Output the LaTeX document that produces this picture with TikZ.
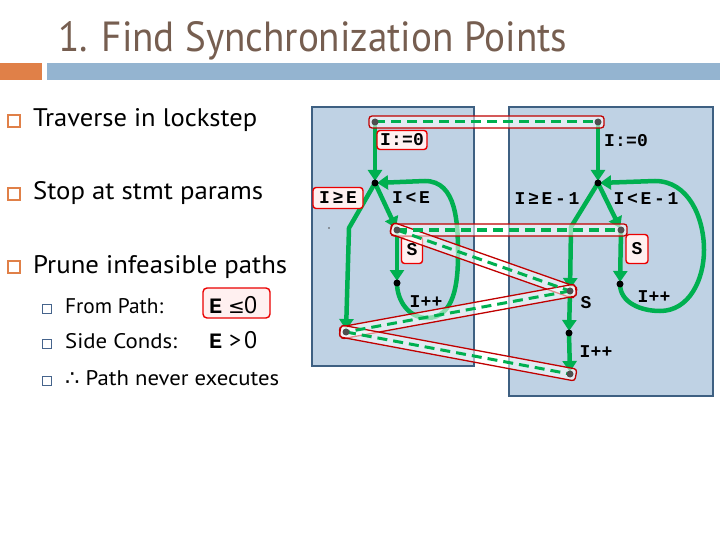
\documentclass[tikz,border=0pt]{standalone}
\usepackage{fontspec}
\setmainfont{PT Sans}
\newfontfamily\djfont{DejaVu Sans}
\newfontfamily\labA{Liberation Mono}[LetterSpace=1]
\newfontfamily\labB{Liberation Mono}[LetterSpace=15]
\newfontfamily\monoE{Liberation Mono}
\usetikzlibrary{arrows.meta,calc}
\definecolor{titlebrown}{RGB}{118,94,80}
\definecolor{barorange}{RGB}{224,128,72}
\definecolor{barblue}{RGB}{148,180,208}
\definecolor{panelfill}{RGB}{191,210,228}
\definecolor{paneledge}{RGB}{62,96,130}
\definecolor{sgreen}{RGB}{0,176,80}
\definecolor{barred}{RGB}{192,0,0}
\definecolor{lred}{RGB}{235,0,0}
\definecolor{lpink}{RGB}{255,240,240}
\definecolor{dotgray}{RGB}{80,80,80}
\definecolor{subblue}{RGB}{70,100,140}
\newcommand\syncbar[3]{%
  \path let \p1=($(#2)-(#1)$), \n1={atan2(\y1,\x1)}, \n2={veclen(\x1,\y1)} in
    node[barbox, minimum width=\n2+12pt, rotate=\n1] (#3) at ($(#1)!0.5!(#2)$) {};}
\begin{document}
\begin{tikzpicture}[x=1pt,y=-1pt,
  garrow/.style={draw=sgreen, line width=4.5pt, -{Triangle[length=11pt,width=14pt]}, shorten >=2pt},
  barbox/.style={draw=barred, line width=1.3pt, fill=white, fill opacity=0.55, rounded corners=3pt, minimum height=12pt, inner sep=0pt, outer sep=0pt},
  syncdash/.style={draw=sgreen, line width=3pt, dash pattern=on 10pt off 6pt},
  lbox/.style={draw=lred, line width=1.4pt, fill=lpink, rounded corners=3pt, inner sep=0pt},
  ltA/.style={inner sep=0pt, font=\labA\bfseries\fontsize{18}{18}\selectfont},
  ltB/.style={inner sep=0pt, font=\labB\bfseries\fontsize{18}{18}\selectfont},
  bdot/.style={circle, fill=black, inner sep=0pt, minimum size=7pt},
  gdot/.style={circle, fill=dotgray, inner sep=0pt, minimum size=7pt},
  panel/.style={draw=paneledge, line width=1.6pt, fill=panelfill},
  bullet/.style={draw=barorange, line width=1.2pt, fill=white},
  subbullet/.style={draw=subblue, line width=1pt, fill=white},
  txt/.style={anchor=base west, inner sep=0pt, font=\fontsize{24}{24}\selectfont},
]
\useasboundingbox (0,0) rectangle (720,540);
\fill[white] (0,0) rectangle (720,540);
% title and bars
\node[anchor=base west, inner sep=0pt, text=titlebrown, font=\fontsize{42}{42}\selectfont] (title) at (58,52)
  {\resizebox{509pt}{30pt}{1. Find Synchronization Points}};
\fill[barorange] (0,63) rectangle (42,80);
\fill[barblue] (47,63) rectangle (720,80);
% bullets
\draw[bullet] (8,115) rectangle (20,127);
\draw[bullet] (8,188) rectangle (20,200);
\draw[bullet] (8,261) rectangle (20,273);
\draw[subbullet] (42,304) rectangle (51,313);
\draw[subbullet] (42,339) rectangle (51,348);
\draw[subbullet] (42,376) rectangle (51,385);
\node[txt] (t1) at (33,127) {\resizebox{224pt}{18pt}{Traverse in lockstep}};
\node[txt] (t2) at (33,200) {\resizebox{230pt}{18pt}{Stop at stmt params}};
\node[txt] (t3) at (33,273) {\resizebox{254pt}{18pt}{Prune infeasible paths}};
\node[txt] (s1) at (65,313) {\resizebox{98pt}{15pt}{From Path:}};
\node[txt] (s2) at (65,348) {\resizebox{112pt}{15pt}{Side Conds:}};
\node[txt] (s3) at (65,385) {\resizebox{214pt}{15pt}{{\djfont ∴} Path never executes}};
\draw[lred, line width=1.4pt, fill=lpink, rounded corners=4pt] (203,288) rectangle (270,318);
\node[anchor=base west, inner sep=0pt, font=\monoE\bfseries\fontsize{22}{22}\selectfont] (e1) at (209,313) {E};
\node[anchor=base west, inner sep=0pt, font=\djfont\fontsize{20}{20}\selectfont] (le) at (228,313) {≤};
\node[anchor=base west, inner sep=0pt, font=\fontsize{24}{24}\selectfont] (z1) at (244,313) {0};
\node[anchor=base west, inner sep=0pt, font=\monoE\bfseries\fontsize{22}{22}\selectfont] (e2) at (209,348) {E};
\node[anchor=base west, inner sep=0pt, font=\fontsize{24}{24}\selectfont] (gt) at (229,348) {>};
\node[anchor=base west, inner sep=0pt, font=\fontsize{24}{24}\selectfont] (z2) at (244,348) {0};
% panels
\draw[panel] (312,107) rectangle (474,366);
\draw[panel] (509,107) rectangle (713,396);
\fill[dotgray] (329,228) circle (0.8pt);
% coordinates
\coordinate (L0) at (375,122);
\coordinate (L1) at (375,183);
\coordinate (L2) at (397,230);
\coordinate (L3) at (397,283);
\coordinate (L4) at (346,332);
\coordinate (R0) at (598,122);
\coordinate (R1) at (598,183);
\coordinate (R2) at (621,230);
\coordinate (R3) at (620,284);
\coordinate (R4) at (570,291);
\coordinate (R5) at (569,333);
\coordinate (R6) at (570,374);
% green flow arrows, left
\draw[garrow] (L0) -- (L1);
\draw[garrow] (L1) -- (349,228) -- (L4);
\draw[garrow] (L1) -- (L2);
\draw[garrow] (L2) -- (L3);
\draw[garrow] (L3) to[out=-90,in=180] (427,318) to[out=0,in=-90] (458,255) to[out=90,in=0] (425,181) -- (L1);
% green flow arrows, right
\draw[garrow] (R0) -- (R1);
\draw[garrow] (R1) -- (571,227) -- (R4);
\draw[garrow] (R1) -- (R2);
\draw[garrow] (R2) -- (R3);
\draw[garrow] (R3) to[out=-90,in=180] (660,311) to[out=0,in=-90] (704,250) to[out=90,in=0] (655,181) -- (R1);
\draw[garrow] (R4) -- (R5);
\draw[garrow] (R5) -- (R6);
% labels
\node[lbox, minimum width=50pt, minimum height=19pt] (bI0) at (402,140) {};
\node[ltA] (lI0) at (bI0) {I:=0};
\node[lbox, minimum width=50pt, minimum height=21pt] (bge) at (338,198) {};
\node[ltB] (lge) at (bge) {I≥E};
\node[ltB] (llt) at (411,198) {I<E};
\node[lbox, minimum width=21pt, minimum height=27pt] (bS) at (412,250) {};
\node[ltA] (lS) at (bS) {S};
\node[ltA] (lpp) at (426,302) {I++};
\node[ltA] (rI0) at (626,141) {I:=0};
\node[ltB] (rge) at (547,199) {I≥E-1};
\node[ltB] (rlt) at (646,199) {I<E-1};
\node[lbox, minimum width=22pt, minimum height=29pt] (bS2) at (637,249) {};
\node[ltA] (rS) at (bS2) {S};
\node[ltA] (rpp) at (654,297) {I++};
\node[ltA] (rS2) at (586,303) {S};
\node[ltA] (rpp2) at (596,352) {I++};
% sync bars
\syncbar{L0}{R0}{b1}
\syncbar{L2}{R2}{b2}
\syncbar{L2}{R4}{b3}
\syncbar{R4}{L4}{b4}
\syncbar{L4}{R6}{b5}
\draw[syncdash] (L0) -- (R0);
\draw[syncdash] (L2) -- (R2);
\draw[syncdash] (L2) -- (R4);
\draw[syncdash] (R4) -- (L4);
\draw[syncdash] (L4) -- (R6);
% dots
\node[gdot] (dL0) at (L0) {};
\node[bdot] (dL1) at (L1) {};
\node[gdot] (dL2) at (L2) {};
\node[bdot] (dL3) at (L3) {};
\node[gdot] (dL4) at (L4) {};
\node[gdot] (dR0) at (R0) {};
\node[bdot] (dR1) at (R1) {};
\node[gdot] (dR2) at (R2) {};
\node[bdot] (dR3) at (R3) {};
\node[gdot] (dR4) at (R4) {};
\node[bdot] (dR5) at (R5) {};
\node[gdot] (dR6) at (R6) {};
\end{tikzpicture}
\end{document}
